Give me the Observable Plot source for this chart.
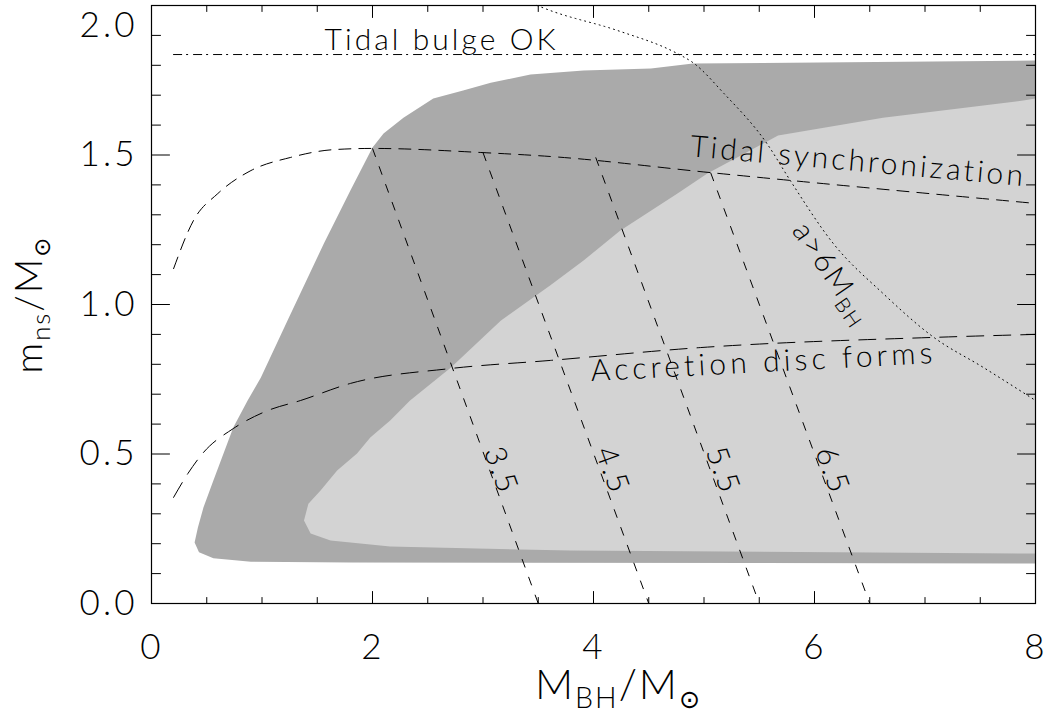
<!DOCTYPE html>
<html><head><meta charset="utf-8">
<script src="https://cdn.jsdelivr.net/npm/d3@7"></script>
<script src="https://cdn.jsdelivr.net/npm/@observablehq/plot@0.6"></script>
<style>
body{margin:0;background:#fff;}
</style></head><body><div id="chart"></div>
<script>
// Dark grey region (outer boundary)
const darkX = [0.39,0.42,0.47,0.56,0.74,0.87,0.99,1.23,1.56,1.80,2.00,2.10,2.28,2.55,2.82,3.07,3.43,3.91,4.52,4.90,8.0,8.0,1.80,0.90,0.56,0.43];
const darkY = [0.204,0.254,0.321,0.411,0.589,0.679,0.756,0.946,1.204,1.381,1.525,1.572,1.625,1.689,1.716,1.742,1.769,1.783,1.789,1.806,1.816,0.134,0.137,0.140,0.151,0.171];
// Light grey region
const lightX = [8.0,7.89,6.62,5.67,5.30,5.03,4.76,4.24,3.91,3.61,3.16,2.71,2.34,2.16,1.98,1.86,1.68,1.53,1.42,1.38,1.44,1.62,2.16,3.79,8.0];
const lightY = [1.689,1.682,1.625,1.565,1.492,1.438,1.371,1.247,1.147,1.064,0.946,0.789,0.679,0.612,0.555,0.502,0.445,0.378,0.334,0.278,0.234,0.211,0.191,0.177,0.167];
// Tidal synchronization (dashed)
const syncX = [0.2,0.38,0.60,0.90,1.26,1.65,2.00,3.00,3.61,5.06,5.78,8.0];
const syncY = [1.120,1.281,1.371,1.448,1.492,1.518,1.522,1.508,1.495,1.441,1.415,1.338];
// Accretion disc forms (long dashed)
const accX = [0.2,0.33,0.47,0.74,1.05,1.35,1.80,2.71,3.61,4.97,7.08,8.0];
const accY = [0.355,0.435,0.505,0.585,0.645,0.679,0.736,0.786,0.813,0.856,0.890,0.900];
// a > 6 M_BH (dotted)
const dotX = [3.49,3.61,4.22,4.76,4.90,5.18,5.57,5.78,6.17,6.62,7.08,7.53,8.0];
const dotY = [2.0,1.983,1.916,1.839,1.809,1.706,1.538,1.415,1.204,1.037,0.890,0.789,0.679];
// Tidal bulge OK (dash-dot)
const bulgeY = [1.836];
const bulgeX1 = [0.2];
const bulgeX2 = [8.0];
// contour lines
const contourLabels = ["3.5","4.5","5.5","6.5"];
const contourTopX = [2.0,3.0,4.02,5.06];
const contourTopY = [1.522,1.508,1.492,1.441];
const contourBottomX = [3.5,4.5,5.5,6.5];
const contourBottomY = [0,0,0,0];
const contourLabelX = [3.16,4.17,5.17,6.16];
const contourLabelY = [0.445,0.445,0.445,0.445];
// annotations
const noteText = ["Tidal bulge OK","Tidal synchronization","Accretion disc forms","a>6M_{BH}"];
const noteX = [2.62,6.39,5.53,6.16];
const noteY = [1.883,1.478,0.806,1.104];
const noteAngle = [0,5.1,-3,55.5];
const noteLength = [233,336,344,0];
// ticks
const xMajor = [0,2,4,6,8];
const xMinor = [0.5,1,1.5,2.5,3,3.5,4.5,5,5.5,6.5,7,7.5];
const yMajor = [0,0.5,1.0,1.5,2.0];
const yMinor = [0.1,0.2,0.3,0.4,0.6,0.7,0.8,0.9,1.1,1.2,1.3,1.4,1.6,1.7,1.8,1.9];
const yTickLabels = ["0.0","0.5","1.0","1.5"];
const yTopLabel = ["2.0"];
const xLabel = "M_{BH}/M_{⊙}";
const yLabel = "m_{ns}/M_{⊙}";

// pick a locally installed family that has a light face
function pickFont() {
  const c = document.createElement("canvas").getContext("2d");
  const s = "Tidal synchronization 0123456789 MOK";
  for (const f of ["DejaVu Sans", "Lato", "Open Sans", "Roboto", "Inter", "Noto Sans"]) {
    c.font = `400 40px "${f}", monospace`; const w4 = c.measureText(s).width;
    c.font = `300 40px "${f}", monospace`; const w2 = c.measureText(s).width;
    c.font = `400 40px monospace`; const wm = c.measureText(s).width;
    if (Math.abs(w4 - wm) > 0.5 && Math.abs(w4 - w2) > 0.5) return f;
  }
  return "DejaVu Sans";
}
const fontName = pickFont();
const st = document.createElement("style");
st.textContent = `svg text{font-family:"${fontName}","DejaVu Sans",sans-serif;font-weight:300;letter-spacing:2px;} svg tspan.sun{font-family:"DejaVu Sans",sans-serif;font-weight:400;}`;
document.head.appendChild(st);

const pts = (xs, ys) => xs.map((x, i) => ({x, y: ys[i]}));
const dark = pts(darkX, darkY);
const light = pts(lightX, lightY);
const sync = pts(syncX, syncY);
const acc = pts(accX, accY);
const dot = pts(dotX, dotY);
const bulge = bulgeY.map((y, i) => ({y, x1: bulgeX1[i], x2: bulgeX2[i]}));
const contours = contourLabels.map((t, i) => ({t, x1: contourTopX[i], y1: contourTopY[i], x2: contourBottomX[i], y2: contourBottomY[i], lx: contourLabelX[i], ly: contourLabelY[i]}));
const notes = noteText.map((t, i) => ({t, x: noteX[i], y: noteY[i], r: noteAngle[i]}));

const tickShape = {draw(context, l) { context.moveTo(0, 0); context.lineTo(0, -l); }};
const tickMarks = (vals, len, pos) => {
  const o = {length: len, anchor: "start", shape: tickShape, stroke: "black", strokeWidth: 1};
  if (pos === "bottom") return Plot.vector(vals, {...o, x: d => d, y: () => 0, rotate: 0});
  if (pos === "top") return Plot.vector(vals, {...o, x: d => d, y: () => 2, rotate: 180});
  if (pos === "left") return Plot.vector(vals, {...o, y: d => d, x: () => 0, rotate: 90});
  return Plot.vector(vals, {...o, y: d => d, x: () => 8, rotate: 270});
};

const chart = Plot.plot({
  width: 1049, height: 717,
  marginLeft: 151, marginRight: 14, marginTop: 5, marginBottom: 114,
  x: {domain: [0, 8], axis: null},
  y: {domain: [0, 2], axis: null},
  style: {color: "black", background: "white"},
  marks: [
    Plot.line(dark, {x: "x", y: "y", fill: "#aaaaaa", stroke: "none"}),
    Plot.line(light, {x: "x", y: "y", fill: "#d3d3d3", stroke: "none"}),
    Plot.ruleY(bulge, {y: "y", x1: "x1", x2: "x2", stroke: "black", strokeWidth: 1, strokeDasharray: "9,4,2,5"}),
    Plot.line(sync, {x: "x", y: "y", curve: "monotone-x", stroke: "black", strokeWidth: 1, strokeDasharray: "12,8"}),
    Plot.line(acc, {x: "x", y: "y", curve: "monotone-x", stroke: "black", strokeWidth: 1, strokeDasharray: "17,10"}),
    Plot.line(dot, {x: "x", y: "y", curve: "monotone-x", stroke: "black", strokeWidth: 1, strokeDasharray: "1,4"}),
    Plot.link(contours, {x1: "x1", y1: "y1", x2: "x2", y2: "y2", stroke: "black", strokeWidth: 1, strokeDasharray: "9,10"}),
    Plot.text(contours, {x: "lx", y: "ly", text: "t", rotate: 70, fontSize: 30, lineAnchor: "middle", fill: "black"}),
    Plot.text(notes, {x: "x", y: "y", text: "t", rotate: "r", fontSize: 30, lineAnchor: "middle", fill: "black"}),
    tickMarks(xMajor, 12, "bottom"), tickMarks(xMinor, 6, "bottom"),
    tickMarks(xMajor, 12, "top"), tickMarks(xMinor, 6, "top"),
    tickMarks(yMajor, 18, "left"), tickMarks(yMinor, 9, "left"),
    tickMarks(yMajor, 18, "right"), tickMarks(yMinor, 9, "right"),
    Plot.text(xMajor, {x: d => d, y: () => 0, text: d => String(d), dy: 44, textAnchor: "middle", lineAnchor: "middle", fontSize: 35, fill: "black"}),
    Plot.text(yTickLabels, {x: () => 0, y: d => +d, text: d => d, dx: -15, textAnchor: "end", lineAnchor: "middle", fontSize: 35, fill: "black"}),
    Plot.text(yTopLabel, {x: () => 0, y: d => +d, text: d => d, dx: -15, dy: 20, textAnchor: "end", lineAnchor: "middle", fontSize: 35, fill: "black"}),
    Plot.text([xLabel], {frameAnchor: "bottom", dy: 82, dx: 25, fontSize: 42, textAnchor: "middle", lineAnchor: "middle", text: d => d, fill: "black"}),
    Plot.text([yLabel], {frameAnchor: "left", dx: -122, rotate: -90, fontSize: 38, textAnchor: "middle", lineAnchor: "middle", text: d => d, fill: "black"}),
    Plot.frame({stroke: "black", strokeWidth: 1.2})
  ]
});

// subscripts as real tspans, exact lengths for annotation texts
d3.select(chart).selectAll("text").each(function() {
  const t = this.textContent;
  const k = noteText.indexOf(t);
  if (k >= 0 && noteLength[k] > 0) {
    d3.select(this).attr("textLength", noteLength[k]).attr("lengthAdjust", "spacing");
  }
  if (yTickLabels.includes(t) || yTopLabel.includes(t)) {
    d3.select(this).attr("textLength", 57).attr("lengthAdjust", "spacing");
  }
  if (!t.includes("_{")) return;
  const el = d3.select(this);
  const fsAttr = this.getAttribute("font-size") || (this.parentNode && this.parentNode.getAttribute("font-size"));
  const fs = parseFloat(fsAttr) || 30;
  const sh = 0.22 * fs;
  el.text(null);
  const parts = t.split(/(_\{[^}]*\})/).filter(p => p);
  let shifted = false;
  for (const p of parts) {
    if (p.startsWith("_{")) {
      const s = p.slice(2, -1);
      const ts = el.append("tspan").attr("dy", shifted ? 0 : sh).text(s);
      if (s === "⊙") ts.attr("class", "sun").style("font-size", (0.6 * fs) + "px");
      else ts.style("font-size", (0.68 * fs) + "px");
      shifted = true;
    } else {
      el.append("tspan").attr("dy", shifted ? -sh : 0).text(p);
      shifted = false;
    }
  }
});
document.getElementById("chart").appendChild(chart);
</script></body></html>
